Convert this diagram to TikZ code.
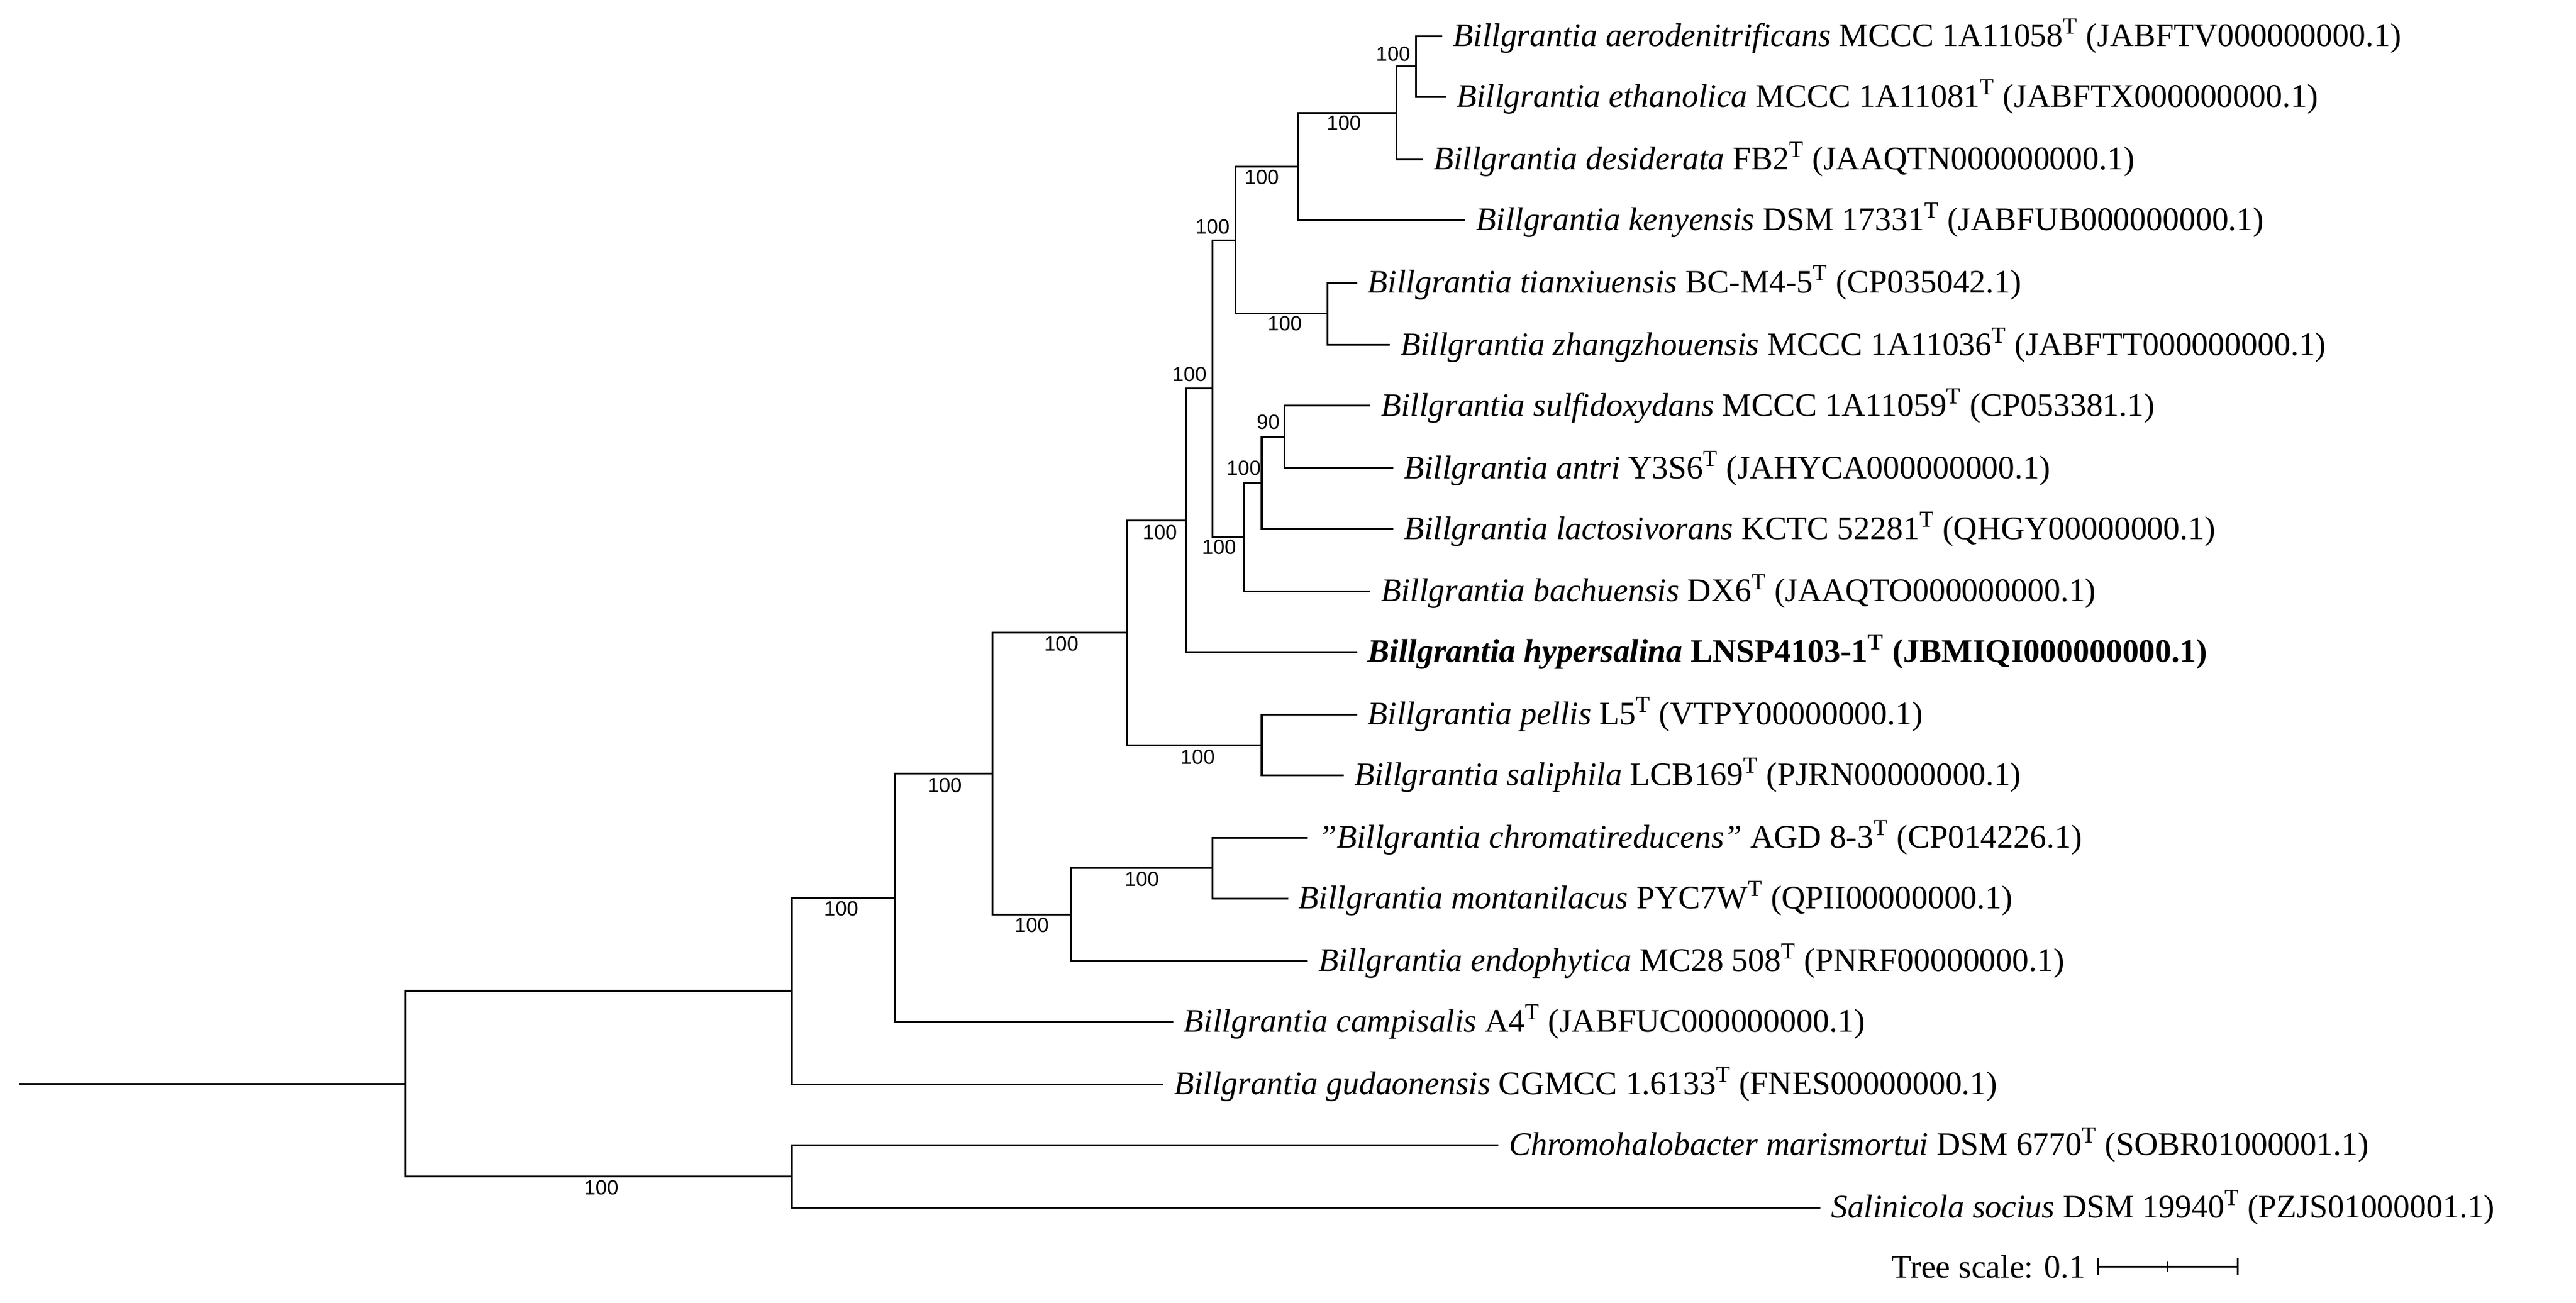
\documentclass[tikz,border=0pt]{standalone}
\usepackage{fontspec}
\setmainfont{Liberation Serif}
\newfontfamily\bsfont{Liberation Sans}
\usetikzlibrary{calc}
\begin{document}
\begin{tikzpicture}[x=1pt,y=-1pt,line width=1.1pt,
 leaf/.style={anchor=west,inner sep=0pt,font=\fontsize{20}{22}\selectfont},
 bs/.style={inner sep=0pt,font=\bsfont\fontsize{12.5}{14}\selectfont}]
\useasboundingbox (0,0) rectangle (1568,793);
% leaf tips
\foreach \n/\x/\y in {1/878/22,2/880/59,3/866/97,4/892/134,5/826/172,6/846/210,7/834/247,8/848/285,9/848/322,10/834/360,11/826/397,12/826/435,13/818/472,14/796/510,15/784/547,16/796/585,17/714/622,18/708/660,19/912/697,20/1108/735}
  \coordinate (t\n) at (\x,\y);
% internal nodes
\coordinate (A) at (862,40.5);
\coordinate (B) at (850,68.75);
\coordinate (C) at (790,101.4);
\coordinate (E) at (808,191);
\coordinate (D) at (752,146.2);
\coordinate (G) at (782,266);
\coordinate (H) at (768,294);
\coordinate (I) at (757,327);
\coordinate (J) at (738,236.6);
\coordinate (K) at (722,316.8);
\coordinate (L) at (768,453.5);
\coordinate (M) at (686,385.2);
\coordinate (N) at (738,528.5);
\coordinate (O) at (652,556.7);
\coordinate (P) at (604,471);
\coordinate (Q) at (545,546.5);
\coordinate (R) at (482,603.2);
\coordinate (S) at (482,716);
\coordinate (Root) at (247,659.6);
\coordinate (base) at (12,659.6);
\draw (A) |- (t1) (A) |- (t2);
\draw (B) |- (A) (B) |- (t3);
\draw (C) |- (B) (C) |- (t4);
\draw (E) |- (t5) (E) |- (t6);
\draw (D) |- (C) (D) |- (E);
\draw (G) |- (t7) (G) |- (t8);
\draw (H) |- (G) (H) |- (t9);
\draw (I) |- (H) (I) |- (t10);
\draw (J) |- (D) (J) |- (I);
\draw (K) |- (J) (K) |- (t11);
\draw (L) |- (t12) (L) |- (t13);
\draw (M) |- (K) (M) |- (L);
\draw (N) |- (t14) (N) |- (t15);
\draw (O) |- (N) (O) |- (t16);
\draw (P) |- (M) (P) |- (O);
\draw (Q) |- (P) (Q) |- (t17);
\draw (R) |- (Q) (R) |- (t18);
\draw (S) |- (t19) (S) |- (t20);
\draw (Root) |- (R) (Root) |- (S);
\draw (base) -- (Root);
% bootstrap
\foreach \v/\x/\y in {100/848/33,100/818/75,100/768/108,100/738/138,100/782/197,90/772/257,100/757/285,100/742/333,100/724/228,100/706/324,100/729/461,100/646/392,100/695/535,100/628/563,100/575/478,100/512/553,100/366/723}
  \node[bs] at (\x,\y) {\v};
% leaves
\node[leaf] (l1) at ([xshift=6pt]t1) {\textit{Billgrantia aerodenitrificans} MCCC 1A11058\textsuperscript{T} (JABFTV000000000.1)};
\node[leaf] (l2) at ([xshift=6pt]t2) {\textit{Billgrantia ethanolica} MCCC 1A11081\textsuperscript{T} (JABFTX000000000.1)};
\node[leaf] (l3) at ([xshift=6pt]t3) {\textit{Billgrantia desiderata} FB2\textsuperscript{T} (JAAQTN000000000.1)};
\node[leaf] (l4) at ([xshift=6pt]t4) {\textit{Billgrantia kenyensis} DSM 17331\textsuperscript{T} (JABFUB000000000.1)};
\node[leaf] (l5) at ([xshift=6pt]t5) {\textit{Billgrantia tianxiuensis} BC-M4-5\textsuperscript{T} (CP035042.1)};
\node[leaf] (l6) at ([xshift=6pt]t6) {\textit{Billgrantia zhangzhouensis} MCCC 1A11036\textsuperscript{T} (JABFTT000000000.1)};
\node[leaf] (l7) at ([xshift=6pt]t7) {\textit{Billgrantia sulfidoxydans} MCCC 1A11059\textsuperscript{T} (CP053381.1)};
\node[leaf] (l8) at ([xshift=6pt]t8) {\textit{Billgrantia antri} Y3S6\textsuperscript{T} (JAHYCA000000000.1)};
\node[leaf] (l9) at ([xshift=6pt]t9) {\textit{Billgrantia lactosivorans} KCTC 52281\textsuperscript{T} (QHGY00000000.1)};
\node[leaf] (l10) at ([xshift=6pt]t10) {\textit{Billgrantia bachuensis} DX6\textsuperscript{T} (JAAQTO000000000.1)};
\node[leaf] (l11) at ([xshift=6pt]t11) {\textbf{\textit{Billgrantia hypersalina} LNSP4103-1\textsuperscript{T} (JBMIQI000000000.1)}};
\node[leaf] (l12) at ([xshift=6pt]t12) {\textit{Billgrantia pellis} L5\textsuperscript{T} (VTPY00000000.1)};
\node[leaf] (l13) at ([xshift=6pt]t13) {\textit{Billgrantia saliphila} LCB169\textsuperscript{T} (PJRN00000000.1)};
\node[leaf] (l14) at ([xshift=6pt]t14) {\textit{"Billgrantia chromatireducens"} AGD 8-3\textsuperscript{T} (CP014226.1)};
\node[leaf] (l15) at ([xshift=6pt]t15) {\textit{Billgrantia montanilacus} PYC7W\textsuperscript{T} (QPII00000000.1)};
\node[leaf] (l16) at ([xshift=6pt]t16) {\textit{Billgrantia endophytica} MC28 508\textsuperscript{T} (PNRF00000000.1)};
\node[leaf] (l17) at ([xshift=6pt]t17) {\textit{Billgrantia campisalis} A4\textsuperscript{T} (JABFUC000000000.1)};
\node[leaf] (l18) at ([xshift=6pt]t18) {\textit{Billgrantia gudaonensis} CGMCC 1.6133\textsuperscript{T} (FNES00000000.1)};
\node[leaf] (l19) at ([xshift=6pt]t19) {\textit{Chromohalobacter marismortui} DSM 6770\textsuperscript{T} (SOBR01000001.1)};
\node[leaf] (l20) at ([xshift=6pt]t20) {\textit{Salinicola socius} DSM 19940\textsuperscript{T} (PZJS01000001.1)};
% scale
\node[leaf,anchor=east] (ts) at (1270,771) {Tree scale: 0.1};
\coordinate (s1) at (1277,771);
\coordinate (s2) at (1362,771);
\coordinate (sm) at ($(s1)!0.5!(s2)$);
\draw[line width=0.9pt] (s1) -- (s2);
\draw[line width=0.9pt] ([yshift=-5pt]s1) -- ([yshift=5pt]s1) ([yshift=-5pt]s2) -- ([yshift=5pt]s2) ([yshift=-3pt]sm) -- ([yshift=3pt]sm);
\end{tikzpicture}
\end{document}
